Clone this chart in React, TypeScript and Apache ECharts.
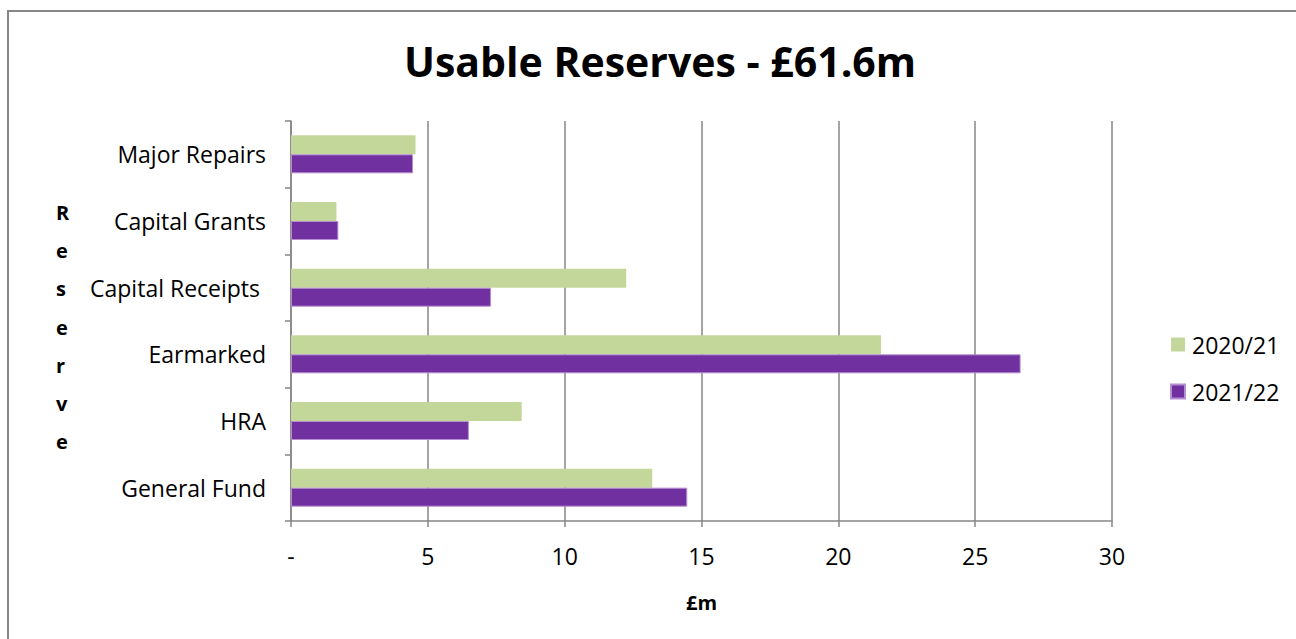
import React, { useEffect, useRef } from "react";
import * as echarts from "echarts";

const categories = ["Major Repairs", "Capital Grants", "Capital Receipts ", "Earmarked", "HRA", "General Fund"];
const series2020 = [4.55, 1.66, 12.25, 21.56, 8.43, 13.2];
const series2021 = [4.46, 1.73, 7.31, 26.66, 6.5, 14.48];
const seriesNames = ["2020/21", "2021/22"];

const FONT = "'Open Sans', Lato, sans-serif";

export default function App() {
  const ref = useRef<HTMLDivElement>(null);
  useEffect(() => {
    const chart = echarts.init(ref.current!, null, { renderer: "svg" });
    chart.setOption({
      animation: false,
      backgroundColor: "#ffffff",
      title: {
        text: "Usable Reserves - £61.6m",
        left: 646,
        top: 23,
        textAlign: "center",
        textStyle: { fontFamily: FONT, fontSize: 41, fontWeight: "bold", color: "#000" },
      },
      legend: {
        orient: "vertical",
        left: 1156,
        top: 316,
        itemWidth: 14,
        itemHeight: 14,
        itemGap: 24,
        icon: "rect",
        data: seriesNames,
        textStyle: { fontFamily: FONT, fontSize: 23, color: "#000", padding: [0, 0, 0, 2] },
      },
      grid: { left: 282, top: 109, width: 821, height: 400, containLabel: false },
      xAxis: {
        type: "value",
        min: 0,
        max: 30,
        interval: 5,
        name: "£m",
        nameLocation: "middle",
        nameGap: 71,
        nameTextStyle: { fontFamily: FONT, fontSize: 20, fontWeight: "bold", color: "#000" },
        axisLine: { show: true, lineStyle: { color: "#868686", width: 1.5 } },
        axisTick: { show: true, length: 6, lineStyle: { color: "#868686", width: 1.5 } },
        splitLine: { show: true, lineStyle: { color: "#868686", width: 1.5 } },
        axisLabel: {
          margin: 23,
          fontFamily: FONT,
          fontSize: 23,
          color: "#000",
          formatter: (v: number) => (v === 0 ? "-" : String(v)),
        },
      },
      yAxis: {
        type: "category",
        inverse: true,
        data: categories,
        axisLine: { show: true, lineStyle: { color: "#868686", width: 1.5 } },
        axisTick: { show: true, length: 6, lineStyle: { color: "#868686", width: 1.5 } },
        axisLabel: { margin: 25, fontFamily: FONT, fontSize: 23, color: "#000" },
      },
      graphic: [
        {
          type: "text",
          left: 47,
          top: 181,
          style: {
            text: "R\ne\ns\ne\nr\nv\ne",
            font: "bold 20px " + FONT,
            lineHeight: 38.3,
            align: "center",
            fill: "#000",
          },
        },
      ],
      series: [
        {
          name: seriesNames[0],
          type: "bar",
          data: series2020,
          barWidth: 19,
          barGap: "0%",
          itemStyle: { color: "#C4D79B" },
        },
        {
          name: seriesNames[1],
          type: "bar",
          data: series2021,
          barWidth: 19,
          barGap: "0%",
          itemStyle: { color: "#7030A0", borderColor: "#B68FD0", borderWidth: 1 },
        },
      ],
    });
    return () => chart.dispose();
  }, []);
  return (
    <div
      style={{
        position: "absolute",
        left: 7,
        top: 10,
        width: 1289,
        height: 629,
        borderLeft: "2px solid #878787",
        borderTop: "2px solid #878787",
        boxSizing: "border-box",
        background: "#fff",
      }}
    >
      <div ref={ref} style={{ width: 1287, height: 627 }} />
    </div>
  );
}
